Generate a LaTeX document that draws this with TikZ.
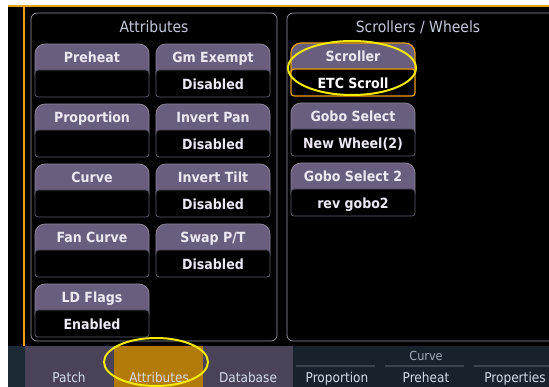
\documentclass[tikz,border=0pt]{standalone}
\usepackage{fontspec}
\setmainfont{DejaVu Sans Condensed}
\definecolor{uiorange}{HTML}{E8A010}
\definecolor{uiyellow}{HTML}{F2EA00}
\definecolor{panelb}{HTML}{9A9AA6}
\definecolor{headfill}{HTML}{695E7E}
\definecolor{headline}{HTML}{8A8499}
\definecolor{valline}{HTML}{5E5C6C}
\definecolor{btntext}{HTML}{ECE8F4}
\definecolor{titletext}{HTML}{C4C8DC}
\definecolor{tabpurple}{HTML}{4A4358}
\definecolor{tabsel}{HTML}{B27A08}
\definecolor{tabnavy}{HTML}{17222D}
\definecolor{tabslate}{HTML}{1C2A35}
\definecolor{tabtext}{HTML}{D4DAE8}
\definecolor{curvetext}{HTML}{A4ACBC}
\definecolor{curveline}{HTML}{3A434E}
\tikzset{
  btnhead/.style={fill=headfill, draw=headline, line width=0.8pt, rounded corners=10pt},
  btnval/.style={fill=black, draw=valline, line width=0.8pt, rounded corners=3pt},
  selbtn/.style={draw=uiorange, line width=1.2pt},
  headtxt/.style={font=\fontsize{14}{16}\selectfont\bfseries, text=btntext, inner sep=0pt, anchor=base},
  valtxt/.style={font=\fontsize{14}{16}\selectfont\bfseries, text=btntext, inner sep=0pt, anchor=base},
  paneltitle/.style={font=\fontsize{15.5}{17}\selectfont, text=titletext, inner sep=0pt, anchor=base},
  tablabel/.style={font=\fontsize{13.5}{15}\selectfont, text=tabtext, inner sep=0pt, anchor=base},
  hilite/.style={draw=uiyellow, line width=2pt},
  panelframe/.style={draw=panelb, line width=0.7pt, rounded corners=6pt}
}
% #1 name, #2 x, #3 y, #4 width, #5 header, #6 value, #7 extra style
\newcommand{\UIBtn}[7]{%
  \path[btnhead,#7] (#2,#3) rectangle ++(#4,40);
  \path[btnval,#7] (#2,#3+26) rectangle ++(#4,27);
  \node[headtxt] (#1h) at (#2+#4/2,#3+18.5) {#5};
  \node[valtxt] (#1v) at (#2+#4/2,#3+45.5) {#6};
}
\begin{document}
\begin{tikzpicture}[x=1pt,y=-1pt]
\useasboundingbox (0,0) rectangle (549,387);
\fill[white] (0,0) rectangle (549,387);
\fill[black] (8,5) rectangle (549,387);
% orange frame lines
\draw[uiorange, line width=2pt] (8,6) -- (549,6);
\draw[uiorange, line width=2pt] (24,6) -- (24,346);
% panels
\path[panelframe] (31,13) rectangle (277,341);
\path[panelframe] (551,13) -- (287,13) -- (287,341) -- (551,341);
\node[paneltitle] (attrtitle) at (154,33) {Attributes};
\node[paneltitle] (scrtitle) at (418,33) {Scrollers / Wheels};
% attribute buttons
\UIBtn{preheat}{35}{44}{114}{Preheat}{}{}
\UIBtn{gmexempt}{156}{44}{114}{Gm Exempt}{Disabled}{}
\UIBtn{proportion}{35}{104}{114}{Proportion}{}{}
\UIBtn{invpan}{156}{104}{114}{Invert Pan}{Disabled}{}
\UIBtn{curve}{35}{164}{114}{Curve}{}{}
\UIBtn{invtilt}{156}{164}{114}{Invert Tilt}{Disabled}{}
\UIBtn{fancurve}{35}{224}{114}{Fan Curve}{}{}
\UIBtn{swappt}{156}{224}{114}{Swap P/T}{Disabled}{}
\UIBtn{ldflags}{35}{284}{114}{LD Flags}{Enabled}{}
% scrollers / wheels buttons
\UIBtn{scroller}{291}{43}{124}{Scroller}{\textcolor{white}{ETC Scroll}}{selbtn}
\UIBtn{gobo}{291}{103}{124}{Gobo Select}{New Wheel(2)}{}
\UIBtn{gobotwo}{291}{163}{124}{Gobo Select 2}{rev gobo2}{}
% bottom tab bar
\fill[tabslate] (8,346) rectangle (25,387);
\fill[tabpurple] (25,346) rectangle (293,387);
\fill[tabsel] (114,346) rectangle (203,387);
\fill[tabnavy] (293,346) rectangle (549,387);
\node[font=\fontsize{12.5}{14}\selectfont, text=curvetext, inner sep=0pt, anchor=base] (curvegrp) at (426,360) {Curve};
\draw[curveline, line width=1.5pt] (296,366) -- (375,366);
\draw[curveline, line width=1.5pt] (385,366) -- (464,366);
\draw[curveline, line width=1.5pt] (474,366) -- (549,366);
\node[tablabel] (tpatch) at (69,382) {Patch};
\node[tablabel] (tattr) at (159,382) {Attributes};
\node[tablabel] (tdb) at (248,382) {Database};
\node[tablabel] (tprop) at (337,382) {Proportion};
\node[tablabel] (tpre) at (426,382) {Preheat};
\node[tablabel] (tprops) at (515,382) {Properties};
% yellow highlight ellipses
\draw[hilite] (352,68) ellipse [x radius=64, y radius=27];
\draw[hilite] (156,362) ellipse [x radius=52, y radius=24];
\end{tikzpicture}
\end{document}
